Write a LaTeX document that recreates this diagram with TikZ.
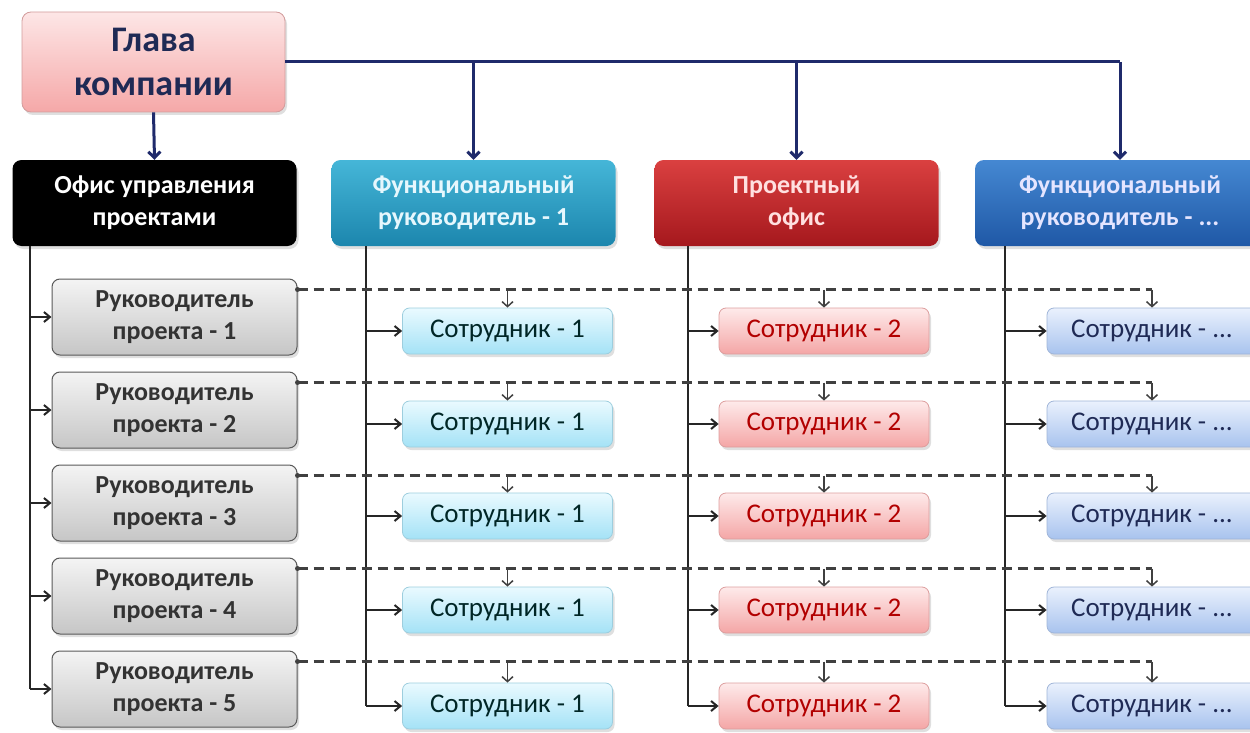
\documentclass[tikz,border=0pt]{standalone}
\usepackage{fontspec}
\setmainfont{Carlito}
\usetikzlibrary{arrows.meta,shadows,calc}

\definecolor{navy}{HTML}{1F2A6B}
\definecolor{headtxt}{HTML}{1F2A55}
\definecolor{pinkT}{HTML}{FDE6E6}
\definecolor{pinkB}{HTML}{F5A8A8}
\definecolor{tealT}{HTML}{45B6D8}
\definecolor{tealB}{HTML}{1C86AD}
\definecolor{redT}{HTML}{DA4040}
\definecolor{redB}{HTML}{A5181D}
\definecolor{blueT}{HTML}{4588D2}
\definecolor{blueB}{HTML}{1F58A6}
\definecolor{greyT}{HTML}{F4F4F4}
\definecolor{greyB}{HTML}{C6C6C6}
\definecolor{cyanT}{HTML}{EAFAFF}
\definecolor{cyanB}{HTML}{A4E2F6}
\definecolor{rosT}{HTML}{FEEAEA}
\definecolor{rosB}{HTML}{F4A6A6}
\definecolor{lavT}{HTML}{EAF1FD}
\definecolor{lavB}{HTML}{A8C3EE}

\begin{document}
\begin{tikzpicture}[x=1pt,y=-1pt,
  box/.style={rounded corners=9pt, align=center, inner sep=0pt,
    drop shadow={opacity=0.25, shadow xshift=2pt, shadow yshift=-3pt}},
  headbox/.style={box, minimum width=263pt, minimum height=100pt,
    top color=pinkT, bottom color=pinkB, draw=pinkB!70!gray, line width=0.8pt,
    text=headtxt, font=\fontsize{36}{44}\selectfont\bfseries},
  topbox/.style={box, minimum width=284pt, minimum height=86pt,
    font=\fontsize{26}{32}\selectfont\bfseries},
  rpbox/.style={box, rounded corners=8pt, minimum width=245pt, minimum height=76pt,
    top color=greyT, bottom color=greyB, draw=black!65, line width=1pt,
    text=black!80, font=\fontsize{26}{32}\selectfont\bfseries},
  staff/.style={box, rounded corners=7pt, minimum width=210pt, minimum height=46pt,
    line width=0.8pt, font=\fontsize{27}{30}\selectfont},
  navyline/.style={draw=navy, line width=3pt},
  navyarrow/.style={navyline, -{Straight Barb[length=6pt,width=12pt]}},
  conn/.style={draw=black!85, line width=2pt},
  connarrow/.style={conn, -{Straight Barb[length=6pt,width=10pt]}},
  dashline/.style={draw=black!75, line width=2.6pt, dash pattern=on 10pt off 6pt},
  droparrow/.style={draw=black!75, line width=1.5pt, -{Straight Barb[length=5pt,width=11pt]}}
]
\useasboundingbox (0,0) rectangle (1250,733);

% top level
\node[headbox] (head) at (153.5,62) {Глава\\компании};

\node[topbox, fill=black, text=white] (pmo) at (154.5,203) {Офис управления\\проектами};
\node[topbox, top color=tealT, bottom color=tealB, text=white!90!cyan] (fr1) at (473.5,203) {Функциональный\\руководитель - 1};
\node[topbox, top color=redT, bottom color=redB, text=white!88!red] (po) at (796.5,203) {Проектный\\офис};
\node[topbox, minimum width=290pt, top color=blueT, bottom color=blueB, text=white!90!blue] (fr4) at (1120,203) {Функциональный\\руководитель - ...};

% links from the head of the company
\draw[navyarrow] (head.south) -- (pmo.north);
\draw[navyline] (head.east) -- (fr4.north |- head.east);
\draw[navyarrow] (fr1.north |- head.east) -- (fr1.north);
\draw[navyarrow] (po.north |- head.east) -- (po.north);
\draw[navyarrow] (fr4.north |- head.east) -- (fr4.north);

% project managers and staff rows
\foreach \i/\ry/\sy in {1/317/331, 2/410/424, 3/503/516, 4/596/610, 5/689/706} {
  \node[rpbox] (rp\i) at (174.5,\ry) {Руководитель\\проекта - \i};
  \node[staff, top color=cyanT, bottom color=cyanB, draw=cyanB!80!gray, text=black!70!teal] (sa\i) at (507.5,\sy) {Сотрудник - 1};
  \node[staff, top color=rosT, bottom color=rosB, draw=rosB!80!gray, text=red!70!black] (sb\i) at (824,\sy) {Сотрудник - 2};
  \node[staff, top color=lavT, bottom color=lavB, draw=lavB!80!gray, text=headtxt] (sc\i) at (1152,\sy) {Сотрудник - ...};
}

% vertical trunks
\coordinate (t1) at ($(pmo.south west)+(18,0)$);
\coordinate (t2) at ($(fr1.south west)+(35,0)$);
\coordinate (t3) at ($(po.south west)+(34,0)$);
\coordinate (t4) at ($(fr4.south west)+(30,0)$);

\draw[conn] (t1) -- (t1 |- rp5.west);
\draw[conn] (t2) -- (t2 |- sa5.west);
\draw[conn] (t3) -- (t3 |- sb5.west);
\draw[conn] (t4) -- (t4 |- sc5.west);

\foreach \i in {1,...,5} {
  \draw[connarrow] (t1 |- rp\i.west) -- (rp\i.west);
  \draw[connarrow] (t2 |- sa\i.west) -- (sa\i.west);
  \draw[connarrow] (t3 |- sb\i.west) -- (sb\i.west);
  \draw[connarrow] (t4 |- sc\i.west) -- (sc\i.west);
  % dashed project line and its drops to the staff
  \coordinate (d\i) at ($(rp\i.north east)+(0,11)$);
  \fill[black!75] (d\i) circle (2.5pt);
  \draw[dashline] (d\i) -- (d\i -| sc\i.north);
  \draw[droparrow] (d\i -| sa\i.north) -- (sa\i.north);
  \draw[droparrow] (d\i -| sb\i.north) -- (sb\i.north);
  \draw[droparrow] (d\i -| sc\i.north) -- (sc\i.north);
}
\end{tikzpicture}
\end{document}
